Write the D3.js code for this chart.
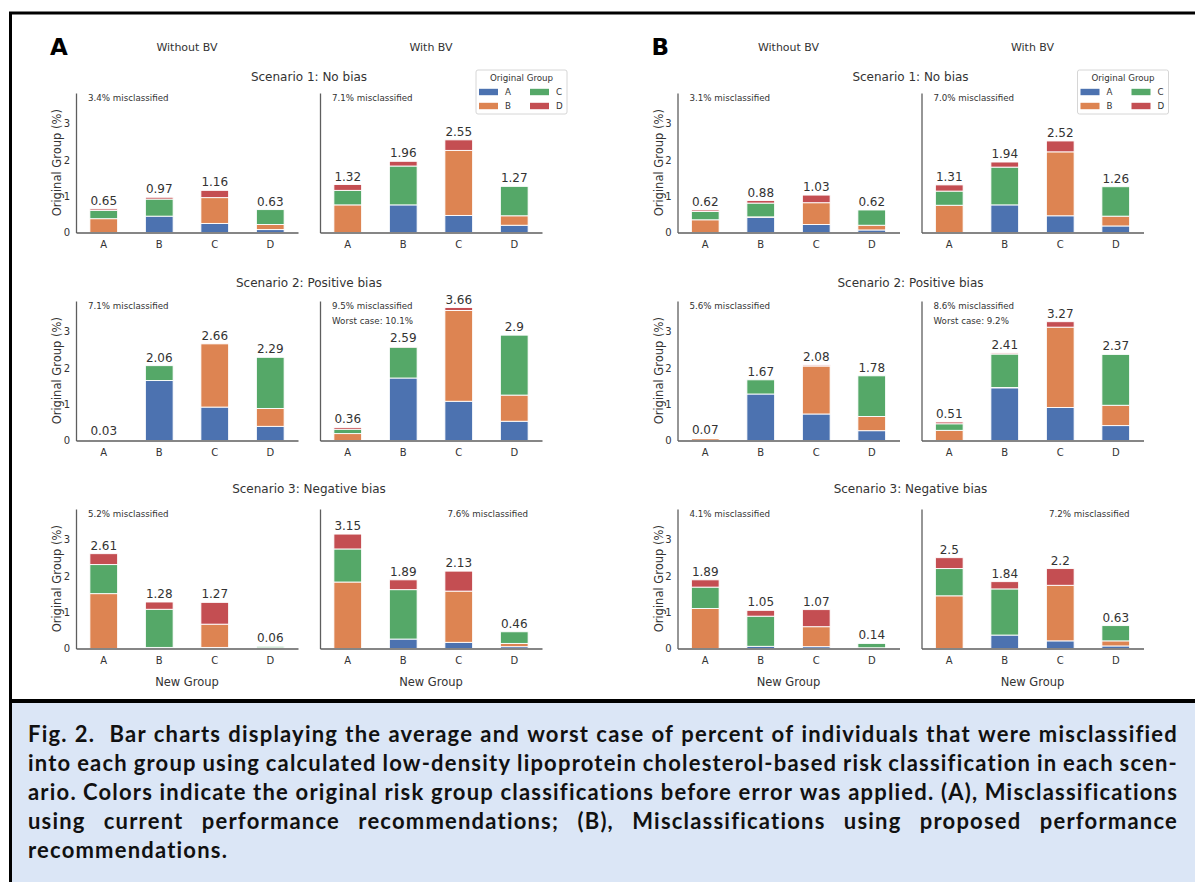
<!DOCTYPE html>
<html>
<head>
<meta charset="utf-8">
<script src="https://cdn.jsdelivr.net/npm/d3@7"></script>
<style>
  body { margin: 0; background: #fff; }
  svg text { font-family: 'DejaVu Sans', sans-serif; }
</style>
</head>
<body>
<svg id="fig" width="1195" height="882"></svg>
<script>
const groups = ['A', 'B', 'C', 'D'];
const groupColors = ['#4c72b0', '#dd8452', '#55a868', '#c44e52'];
const panelLetters = ['A', 'B'];
const columnTitles = ['Without BV', 'With BV'];
const scenarioTitles = ['Scenario 1: No bias', 'Scenario 2: Positive bias', 'Scenario 3: Negative bias'];

// each row = one new group (A..D), columns = share from original group A, B, C, D (%)
const a1Without = [[0, 0.38, 0.23, 0.04], [0.45, 0, 0.47, 0.05], [0.25, 0.71, 0, 0.20], [0.08, 0.14, 0.41, 0]];
const a1With = [[0, 0.76, 0.40, 0.16], [0.76, 0, 1.07, 0.13], [0.47, 1.79, 0, 0.29], [0.20, 0.26, 0.81, 0]];
const a2Without = [[0, 0.02, 0.01, 0], [1.65, 0, 0.41, 0], [0.92, 1.74, 0, 0], [0.39, 0.49, 1.41, 0]];
const a2With = [[0, 0.19, 0.12, 0.05], [1.72, 0, 0.85, 0.02], [1.08, 2.50, 0, 0.08], [0.53, 0.72, 1.65, 0]];
const a3Without = [[0, 1.51, 0.80, 0.30], [0.03, 0, 1.05, 0.20], [0.03, 0.64, 0, 0.60], [0.01, 0.01, 0.04, 0]];
const a3With = [[0, 1.83, 0.91, 0.41], [0.26, 0, 1.36, 0.27], [0.17, 1.41, 0, 0.55], [0.05, 0.09, 0.32, 0]];

const b1Without = [[0, 0.35, 0.23, 0.04], [0.42, 0.01, 0.38, 0.07], [0.22, 0.60, 0, 0.21], [0.07, 0.13, 0.42, 0]];
const b1With = [[0, 0.75, 0.39, 0.17], [0.76, 0, 1.04, 0.14], [0.46, 1.76, 0, 0.30], [0.18, 0.27, 0.81, 0]];
const b2Without = [[0, 0.05, 0.02, 0], [1.28, 0, 0.39, 0], [0.73, 1.32, 0, 0.03], [0.27, 0.39, 1.12, 0]];
const b2With = [[0, 0.28, 0.18, 0.05], [1.45, 0.01, 0.92, 0.03], [0.91, 2.21, 0, 0.15], [0.41, 0.56, 1.40, 0]];
const b3Without = [[0, 1.10, 0.59, 0.20], [0.06, 0, 0.83, 0.16], [0.05, 0.55, 0, 0.47], [0.01, 0.01, 0.12, 0]];
const b3With = [[0, 1.45, 0.75, 0.30], [0.37, 0, 1.27, 0.20], [0.21, 1.53, 0, 0.46], [0.07, 0.14, 0.42, 0]];

const notesA = [['3.4% misclassified', '7.1% misclassified'], ['7.1% misclassified', '9.5% misclassified'], ['5.2% misclassified', '7.6% misclassified']];
const notesB = [['3.1% misclassified', '7.0% misclassified'], ['5.6% misclassified', '8.6% misclassified'], ['4.1% misclassified', '7.2% misclassified']];
const worstA = 'Worst case: 10.1%';
const worstB = 'Worst case: 9.2%';

const yTicks = [0, 1, 2, 3];
const yMax = 3.84;

const captionLines = [
    'Fig. 2.  Bar charts displaying the average and worst case of percent of individuals that were misclassified',
    'into each group using calculated low-density lipoprotein cholesterol-based risk classification in each scen-',
    'ario. Colors indicate the original risk group classifications before error was applied. (A), Misclassifications',
    'using current performance recommendations; (B), Misclassifications using proposed performance',
    'recommendations.'
];

const panels = [
    { data: [[a1Without, a1With], [a2Without, a2With], [a3Without, a3With]], notes: notesA, worst: worstA },
    { data: [[b1Without, b1With], [b2Without, b2With], [b3Without, b3With]], notes: notesB, worst: worstB }
];

// layout
const PANEL_DX = [0, 601.5];
const COL_X = [76, 320];
const AX_W = 222;
const ROW_TOP = [93, 301, 509];
const AX_H = 139.5;
const TITLE_Y = [81, 287, 493];
const TEXT = '#333';
const SPINE = '#5e5e5e';

const svg = d3.select('#fig');

const x = d3.scaleBand().domain(groups).range([0, AX_W]).paddingInner(0.5).paddingOuter(0.25);
const y = d3.scaleLinear().domain([0, yMax]).range([AX_H, 0]);
const stack = d3.stack().keys(groups);

function drawSubplot(g, rows, col, row, note, worst) {
    let objs = rows.map((r, i) => {
        let o = { group: groups[i] };
        groups.forEach((k, j) => o[k] = r[j]);
        return o;
    });
    let series = stack(objs);

    g.selectAll('g.series')
        .data(series)
        .join('g')
        .attr('class', 'series')
        .attr('fill', (d, i) => groupColors[i])
        .selectAll('rect')
        .data(d => d)
        .join('rect')
        .attr('x', d => x(d.data.group))
        .attr('y', d => y(d[1]))
        .attr('width', x.bandwidth())
        .attr('height', d => Math.max(0, y(d[0]) - y(d[1])))
        .attr('stroke', '#fff')
        .attr('stroke-width', 0.9);

    // totals above bars
    g.selectAll('text.total')
        .data(rows)
        .join('text')
        .attr('class', 'total')
        .attr('x', (d, i) => x(groups[i]) + x.bandwidth() / 2)
        .attr('y', d => y(d3.sum(d)) - 4)
        .attr('text-anchor', 'middle')
        .attr('font-size', 12)
        .attr('fill', TEXT)
        .text(d => String(+d3.sum(d).toFixed(2)));

    let yAxis = g.append('g')
        .call(d3.axisLeft(y).tickValues(yTicks).tickSize(0).tickPadding(6).tickFormat(d3.format('d')));
    let xAxis = g.append('g')
        .attr('transform', `translate(0,${AX_H})`)
        .call(d3.axisBottom(x).tickSize(0).tickPadding(8));
    for (let ax of [xAxis, yAxis]) {
        ax.select('.domain').attr('stroke', SPINE).attr('stroke-width', 1.3);
        ax.selectAll('text').attr('font-size', 10).attr('fill', TEXT).attr('font-family', "'DejaVu Sans', sans-serif");
    }
    if (col == 1) yAxis.selectAll('.tick text').remove();

    if (col == 0) {
        g.append('text')
            .attr('transform', `translate(-15,${AX_H / 2}) rotate(-90)`)
            .attr('text-anchor', 'middle')
            .attr('font-size', 11.5)
            .attr('fill', TEXT)
            .text('Original Group (%)');
    }
    if (row == 2) {
        g.append('text')
            .attr('x', AX_W / 2)
            .attr('y', AX_H + 37)
            .attr('text-anchor', 'middle')
            .attr('font-size', 11.5)
            .attr('fill', TEXT)
            .text('New Group');
    }

    // misclassified note
    let rightAligned = (row == 2 && col == 1);
    g.append('text')
        .attr('x', rightAligned ? AX_W - 14 : 12)
        .attr('y', 7.5)
        .attr('text-anchor', rightAligned ? 'end' : 'start')
        .attr('font-size', 8.7)
        .attr('fill', TEXT)
        .text(note);
    if (worst) {
        g.append('text')
            .attr('x', 12)
            .attr('y', 22.5)
            .attr('font-size', 8.7)
            .attr('fill', TEXT)
            .text(worst);
    }
}

function drawLegend(g) {
    let lg = g.append('g').attr('transform', 'translate(156,-23)');
    lg.append('rect')
        .attr('width', 91).attr('height', 44)
        .attr('rx', 2)
        .attr('fill', '#fff')
        .attr('stroke', '#d6d6d6');
    lg.append('text')
        .attr('x', 45.5).attr('y', 11)
        .attr('text-anchor', 'middle')
        .attr('font-size', 8.7)
        .attr('fill', TEXT)
        .text('Original Group');
    let items = lg.selectAll('g.item')
        .data(groups)
        .join('g')
        .attr('class', 'item')
        .attr('transform', (d, i) => `translate(${i < 2 ? 3 : 54},${i % 2 == 0 ? 22 : 36})`);
    items.append('rect')
        .attr('y', -3.2)
        .attr('width', 19).attr('height', 6.4)
        .attr('fill', (d, i) => groupColors[i]);
    items.append('text')
        .attr('x', 26).attr('y', 3.2)
        .attr('font-size', 8.7)
        .attr('fill', TEXT)
        .text(d => d);
}

panels.forEach((panel, p) => {
    let pg = svg.append('g').attr('transform', `translate(${PANEL_DX[p]},0)`);
    pg.append('text')
        .attr('x', 50).attr('y', 55)
        .attr('font-family', "'Liberation Sans', Arial, sans-serif")
        .attr('font-weight', 'bold')
        .attr('font-size', 23)
        .attr('fill', '#000')
        .text(panelLetters[p]);
    columnTitles.forEach((t, c) => {
        pg.append('text')
            .attr('x', COL_X[c] + AX_W / 2).attr('y', 51)
            .attr('text-anchor', 'middle')
            .attr('font-size', 11)
            .attr('fill', TEXT)
            .text(t);
    });
    scenarioTitles.forEach((t, r) => {
        pg.append('text')
            .attr('x', (COL_X[0] + COL_X[1] + AX_W) / 2).attr('y', TITLE_Y[r])
            .attr('text-anchor', 'middle')
            .attr('font-size', 12)
            .attr('fill', TEXT)
            .text(t);
        for (let c = 0; c < 2; c++) {
            let g = pg.append('g').attr('transform', `translate(${COL_X[c]},${ROW_TOP[r]})`);
            drawSubplot(g, panel.data[r][c], c, r, panel.notes[r][c], (r == 1 && c == 1) ? panel.worst : null);
            if (r == 0 && c == 1) drawLegend(g);
        }
    });
});

// caption box and frame
svg.append('rect')
    .attr('x', 11).attr('y', 701)
    .attr('width', 1200).attr('height', 200)
    .attr('fill', '#dbe6f6');
svg.append('path')
    .attr('d', 'M10.5,900 V13 H1200')
    .attr('fill', 'none')
    .attr('stroke', '#000')
    .attr('stroke-width', 3);
svg.append('line')
    .attr('x1', 9).attr('x2', 1200)
    .attr('y1', 701).attr('y2', 701)
    .attr('stroke', '#000')
    .attr('stroke-width', 4);

const CAP_LEFT = 28, CAP_RIGHT = 1178;
const CAP_Y = [742, 771, 800, 829, 858];
const CAP_SIZE = 22;
let cap = svg.append('g')
    .attr('font-weight', 'bold')
    .attr('font-size', CAP_SIZE)
    .attr('fill', '#111');

// letter spacing so the tightest line (line 3) fills the width with normal spaces
let probe = cap.append('text').style('font-family', 'Lato, sans-serif').text(captionLines[2]);
let natural = probe.node().getComputedTextLength();
probe.remove();
let letterSp = Math.max(0, (CAP_RIGHT - CAP_LEFT - natural) / captionLines[2].length);

captionLines.forEach((line, i) => {
    let words = line.split(' ');
    let t = cap.append('text')
        .attr('y', CAP_Y[i])
        .style('font-family', 'Lato, sans-serif')
        .style('letter-spacing', letterSp + 'px');
    let spans = words.map(w => t.append('tspan').text(w));
    let widths = spans.map(s => s.node().getComputedTextLength());
    let last = i == captionLines.length - 1;
    let gap = last ? 6 : (CAP_RIGHT - CAP_LEFT - d3.sum(widths)) / (words.length - 1);
    let pos = CAP_LEFT;
    spans.forEach((s, j) => {
        s.attr('x', pos);
        pos += widths[j] + gap;
    });
});
</script>
</body>
</html>
